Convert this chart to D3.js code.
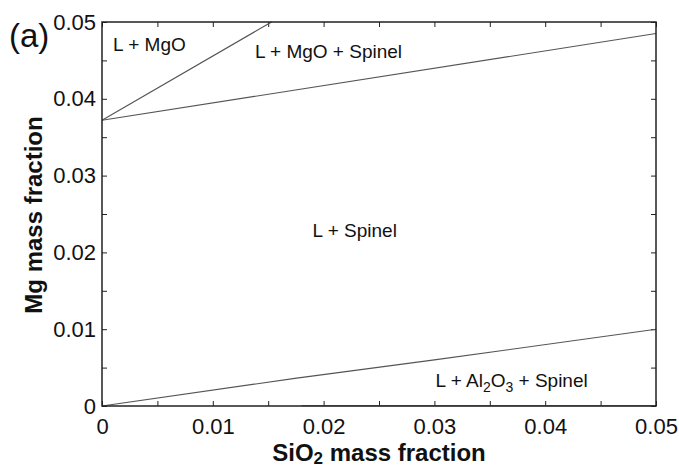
<html lang="en">
  <head>
    <meta charset="UTF-8" />
    <title>Phase diagram (a)</title>
    <script src="https://d3js.org/d3.v7.min.js"></script>
  </head>
  <style>
    body {
      margin: 0px;
      overflow: hidden;
      background: #fff;
    }
    text {
      font-family: "Liberation Sans", Arial, sans-serif;
      fill: #111;
    }
  </style>
  <body>
    <svg width="679" height="468"></svg>
  </body>
  <footer>
    <script>
      // phase boundaries, [SiO2, Mg] mass fractions
      var mgoBoundary = [[0, 0.0372], [0.0153, 0.05]];
      var spinelUpper = [[0, 0.0372], [0.05, 0.0485]];
      var spinelLower = [[0, 0], [0.0174, 0.0036], [0.03, 0.006], [0.05, 0.01]];
      var al2o3Floor = [[0.018, 0.00004], [0.05, 0.00004]];

      var xTicks = [0, 0.01, 0.02, 0.03, 0.04, 0.05];
      var yTicks = [0, 0.01, 0.02, 0.03, 0.04, 0.05];
      var minorTicks = d3.range(0, 0.0501, 0.005);

      // region labels; parts with sub:true are subscripts
      var regionLabels = [
        { parts: [{ t: "L + MgO" }], x: 0.001, y: 0.0462 },
        { parts: [{ t: "L + MgO + Spinel" }], x: 0.0138, y: 0.0453 },
        { parts: [{ t: "L + Spinel" }], x: 0.019, y: 0.022 },
        {
          parts: [
            { t: "L + Al" },
            { t: "2", sub: true },
            { t: "O" },
            { t: "3", sub: true },
            { t: " + Spinel" }
          ],
          x: 0.0301,
          y: 0.00247
        }
      ];

      var svg = d3.select("svg");
      var margin = { top: 22, right: 23, bottom: 62, left: 102 };
      var innerWidth = +svg.attr("width") - margin.left - margin.right;
      var innerHeight = +svg.attr("height") - margin.top - margin.bottom;

      var xScale = d3.scaleLinear().domain([0, 0.05]).range([0, innerWidth]);
      var yScale = d3.scaleLinear().domain([0, 0.05]).range([innerHeight, 0]);

      var g = svg
        .append("g")
        .attr("transform", `translate(${margin.left}, ${margin.top})`);

      var fmt = function (d) {
        return d === 0 ? "0" : d3.format(".2f")(d);
      };

      // inward ticks on all four sides (no labels)
      function tickAxis(axis, tr) {
        var a = g
          .append("g")
          .attr("transform", tr || null)
          .call(axis);
        a.select(".domain").remove();
        a.selectAll("text").remove();
        a.selectAll("line").attr("stroke", "#222").attr("stroke-width", 1);
        return a;
      }
      tickAxis(d3.axisBottom(xScale).tickValues(minorTicks).tickSize(-5), `translate(0, ${innerHeight})`);
      tickAxis(d3.axisTop(xScale).tickValues(minorTicks).tickSize(-5));
      tickAxis(d3.axisLeft(yScale).tickValues(minorTicks).tickSize(-5));
      tickAxis(d3.axisRight(yScale).tickValues(minorTicks).tickSize(-5), `translate(${innerWidth}, 0)`);

      // tick labels
      var xl = g
        .append("g")
        .attr("transform", `translate(0, ${innerHeight})`)
        .call(d3.axisBottom(xScale).tickValues(xTicks).tickSize(0).tickPadding(12).tickFormat(fmt));
      xl.select(".domain").remove();
      xl.selectAll("text").style("font-size", "22px").attr("fill", "#111");

      var yl = g
        .append("g")
        .call(d3.axisLeft(yScale).tickValues(yTicks).tickSize(0).tickPadding(6).tickFormat(fmt));
      yl.select(".domain").remove();
      yl.selectAll("text").style("font-size", "22px").attr("fill", "#111");

      // boundary curves
      var line = d3
        .line()
        .x(function (d) {
          return xScale(d[0]);
        })
        .y(function (d) {
          return yScale(d[1]);
        });

      g.selectAll("path.curve")
        .data([mgoBoundary, spinelUpper, spinelLower, al2o3Floor])
        .enter()
        .append("path")
        .attr("class", "curve")
        .attr("d", line)
        .attr("fill", "none")
        .attr("stroke", "#555")
        .attr("stroke-width", 1.1);

      // frame
      g.append("rect")
        .attr("width", innerWidth)
        .attr("height", innerHeight)
        .attr("fill", "none")
        .attr("stroke", "#222")
        .attr("stroke-width", 1.5);

      // region labels
      var lab = g
        .selectAll("text.region")
        .data(regionLabels)
        .enter()
        .append("text")
        .attr("class", "region")
        .attr("x", function (d) {
          return xScale(d.x);
        })
        .attr("y", function (d) {
          return yScale(d.y);
        })
        .style("font-size", "19px");
      lab.each(function (d) {
        var el = d3.select(this);
        d.parts.forEach(function (p, i) {
          var prevSub = i > 0 && d.parts[i - 1].sub;
          var dy = p.sub ? 5 : prevSub ? -5 : 0;
          el.append("tspan")
            .attr("dy", dy)
            .style("font-size", p.sub ? "14px" : null)
            .text(p.t);
        });
      });

      // axis titles
      var xt = svg
        .append("text")
        .attr("x", margin.left + innerWidth / 2)
        .attr("y", 461)
        .attr("text-anchor", "middle")
        .style("font-size", "24px")
        .style("font-weight", "bold");
      xt.append("tspan").text("SiO");
      xt.append("tspan").attr("dy", 3).style("font-size", "17px").text("2");
      xt.append("tspan").attr("dy", -3).text(" mass fraction");

      svg
        .append("text")
        .attr("transform", `translate(42, ${margin.top + innerHeight / 2 + 1}) rotate(-90)`)
        .attr("text-anchor", "middle")
        .style("font-size", "24px")
        .style("font-weight", "bold")
        .text("Mg mass fraction");

      svg
        .append("text")
        .attr("x", 9)
        .attr("y", 47)
        .style("font-size", "33px")
        .text("(a)");
    </script>
  </footer>
</html>
